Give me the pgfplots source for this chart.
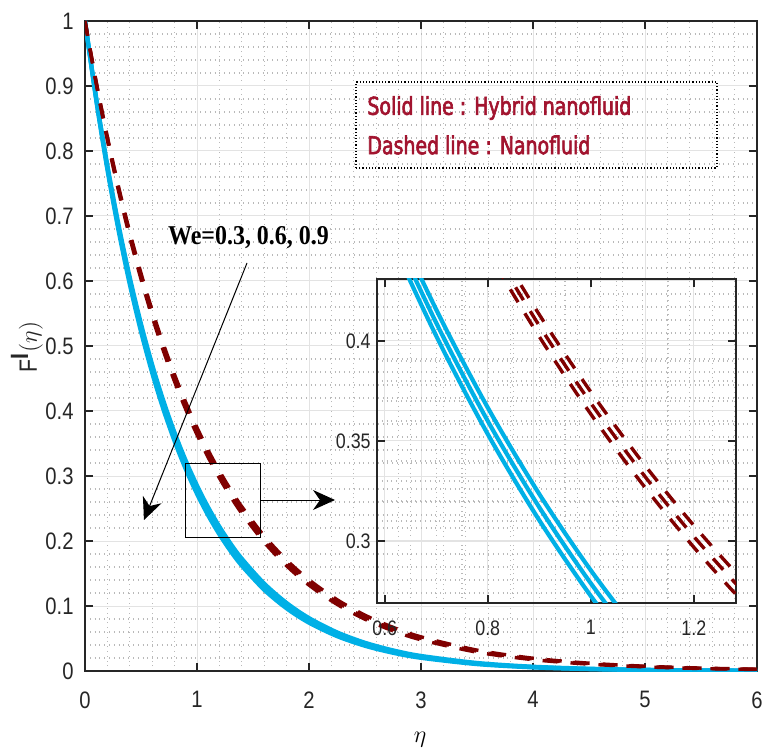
\documentclass[border=0pt]{standalone}
\usepackage{fontspec}
\usepackage{pgfplots}
\pgfplotsset{compat=1.18}
\usepackage{pgfplotstable}
\usetikzlibrary{arrows.meta}
\setmainfont{Liberation Serif}
\newfontfamily\tickfont{Liberation Sans}[FakeStretch=0.85]
\newfontfamily\legfont{DejaVu Sans}[FakeStretch=0.77, FakeBold=2.5]
\newfontfamily\wefont{Liberation Serif}[FakeStretch=0.88]
\definecolor{cyanline}{RGB}{0,176,230}
\definecolor{darkred}{RGB}{128,0,0}
\definecolor{legred}{RGB}{162,20,47}
\definecolor{axgray}{RGB}{38,38,38}

\pgfplotstableread{
eta s1 s2 s3 d1 d2 d3
0 1 1 1 1 1 1
0.1 0.87810 0.88012 0.88215 0.90375 0.90511 0.90647
0.2 0.77105 0.77460 0.77817 0.81677 0.81922 0.82169
0.3 0.67706 0.68175 0.68647 0.73816 0.74149 0.74483
0.4 0.59452 0.60001 0.60556 0.66711 0.67112 0.67517
0.5 0.52205 0.52809 0.53420 0.60290 0.60744 0.61201
0.6 0.45841 0.46478 0.47124 0.54488 0.54980 0.55477
0.7 0.40252 0.40905 0.41569 0.49244 0.49763 0.50289
0.8 0.35345 0.36001 0.36670 0.44504 0.45041 0.45585
0.9 0.31037 0.31686 0.32349 0.40220 0.40767 0.41321
1.0 0.27253 0.27887 0.28536 0.36349 0.36898 0.37456
1.1 0.23931 0.24544 0.25173 0.32851 0.33397 0.33953
1.2 0.21014 0.21602 0.22207 0.29689 0.30227 0.30777
1.3 0.18452 0.19012 0.19589 0.26831 0.27359 0.27898
1.4 0.16203 0.16733 0.17281 0.24249 0.24764 0.25289
1.6 0.12493 0.12961 0.13447 0.19806 0.20287 0.20780
1.8 0.09633 0.10040 0.10465 0.16177 0.16619 0.17074
2.0 0.07427 0.07777 0.08143 0.13213 0.13615 0.14030
2.25 0.05366 0.05651 0.05951 0.10259 0.10611 0.10976
2.5 0.03877 0.04106 0.04349 0.07965 0.08270 0.08586
2.75 0.02801 0.02984 0.03179 0.06186 0.06446 0.06718
3 0.02024 0.02169 0.02323 0.04803 0.05024 0.05255
3.5 0.01057 0.01146 0.01242 0.02896 0.03052 0.03217
4 0.00552 0.00605 0.00663 0.01746 0.01854 0.01969
4.5 0.00288 0.00319 0.00354 0.01053 0.01126 0.01205
5 0.00150 0.00169 0.00189 0.00635 0.00684 0.00737
5.5 0.00079 0.00089 0.00101 0.00383 0.00416 0.00452
6 0.00041 0.00047 0.00054 0.00231 0.00253 0.00276
}\data

\pgfplotsset{
  common/.style={
    scale only axis,
    grid=both,
    major grid style={gray!22, line width=0.5pt},
    minor grid style={gray!55, dotted, line width=0.6pt},
    axis line style={axgray, line width=1.2pt},
    tick style={axgray, line width=1.2pt},
    major tick length=4pt, minor tick length=0pt,
    tick align=inside,
    /pgf/number format/assume math mode=true,
  },
  solidc/.style={cyanline, line width=2.1pt, smooth},
  dashc/.style={darkred, line width=1.7pt, dash pattern=on 7.5pt off 6.5pt, smooth},
}

\begin{document}
\begin{tikzpicture}
\begin{axis}[common,
  width=336pt, height=325pt,
  xmin=0, xmax=6, ymin=0, ymax=1,
  xtick={0,1,2,3,4,5,6},
  ytick={0,0.1,0.2,0.3,0.4,0.5,0.6,0.7,0.8,0.9,1},
  minor x tick num=4, minor y tick num=4,
  xticklabel style={font=\tickfont\fontsize{11.9}{12}\selectfont, text=axgray, inner sep=0pt, anchor=north, yshift=-10pt},
  yticklabel style={font=\tickfont\fontsize{11.9}{12}\selectfont, text=axgray, inner sep=0pt, anchor=east, xshift=-5.5pt},
  xlabel={$\eta$},
  xlabel style={font=\fontsize{13}{14}\selectfont, at={(axis description cs:0.4985,-0.106)}, anchor=center},
  ylabel={{\tickfont F}$^{\textbf{\tickfont I}}(\eta)$},
  ylabel style={font=\fontsize{12.5}{13}\selectfont, text=axgray, at={(axis description cs:-0.0863,0.4985)}, anchor=center},
]
\addplot[solidc] table[x=eta,y=s1]{\data};
\addplot[solidc] table[x=eta,y=s2]{\data};
\addplot[solidc] table[x=eta,y=s3]{\data};
\addplot[dashc] table[x=eta,y=d1]{\data};
\addplot[dashc] table[x=eta,y=d2]{\data};
\addplot[dashc] table[x=eta,y=d3]{\data};
\end{axis}

\begin{axis}[common,
  at={(146pt,34pt)}, anchor=south west,
  width=179.5pt, height=162pt,
  xmin=0.585, xmax=1.282, ymin=0.269, ymax=0.431,
  xtick={0.6,0.8,1,1.2}, ytick={0.3,0.35,0.4},
  minor x tick num=3, minor y tick num=4,
  xticklabel style={font=\tickfont\fontsize{10.5}{11}\selectfont, text=axgray, inner sep=0pt, anchor=north, yshift=-8.5pt},
  yticklabel style={font=\tickfont\fontsize{10.5}{11}\selectfont, text=axgray, inner sep=0pt, anchor=east, xshift=-3pt},
]
\addplot[solidc] table[x=eta,y=s1]{\data};
\addplot[solidc] table[x=eta,y=s2]{\data};
\addplot[solidc] table[x=eta,y=s3]{\data};
\addplot[dashc] table[x=eta,y=d1]{\data};
\addplot[dashc] table[x=eta,y=d2]{\data};
\addplot[dashc] table[x=eta,y=d3]{\data};
\end{axis}

% annotations
\draw[black, line width=0.5pt] (50pt,67pt) rectangle (87.85pt,103.5pt);
\draw[line width=0.5pt, -{Stealth[length=11pt,width=10pt,inset=3.5pt]}] (87.85pt,85.5pt) -- (125pt,85.5pt);
\draw[line width=0.5pt, -{Stealth[length=11pt,width=10pt,inset=3.5pt]}] (81pt,204pt) -- (29.5pt,75.5pt);
\node[inner sep=0pt, font=\wefont\bfseries\fontsize{13.6}{14}\selectfont] at (81.75pt,216.5pt) {We=0.3, 0.6, 0.9};
\draw[densely dotted, line width=0.6pt] (135.5pt,251.5pt) rectangle (316pt,294.5pt);
\node[anchor=west, inner sep=0pt, text=legred, font=\legfont\fontsize{12.3}{13}\selectfont] at (141pt,281.5pt) {Solid line : Hybrid nanofluid};
\node[anchor=west, inner sep=0pt, text=legred, font=\legfont\fontsize{12.3}{13}\selectfont] at (141pt,263pt) {Dashed line : Nanofluid};

\pgfresetboundingbox
\path[use as bounding box] (-42.5pt,-41.5pt) rectangle (339pt,335.5pt);
\end{tikzpicture}
\end{document}
